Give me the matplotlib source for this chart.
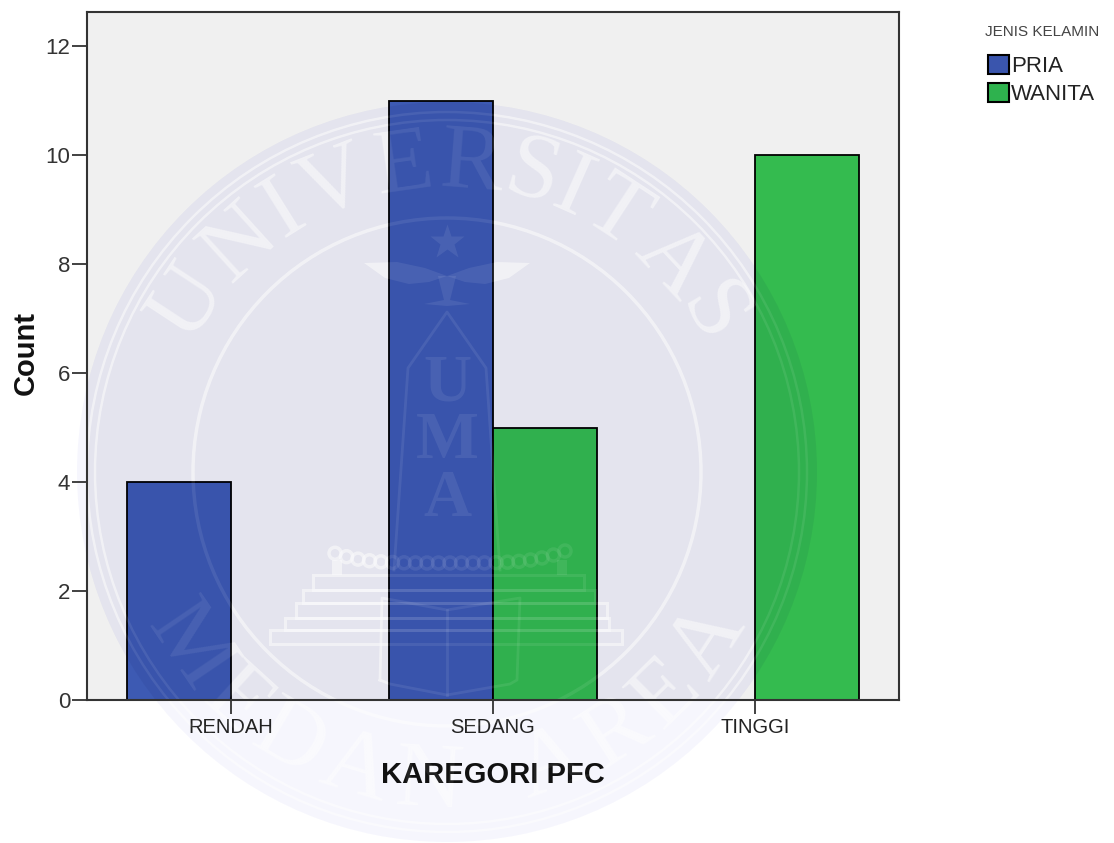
import matplotlib
matplotlib.use("Agg")
import matplotlib.pyplot as plt
from matplotlib.patches import Circle, Polygon, Rectangle, Patch
from matplotlib.textpath import TextPath
from matplotlib.font_manager import FontProperties
from matplotlib.transforms import Affine2D
import numpy as np

categories = ["RENDAH", "SEDANG", "TINGGI"]
pria = [4, 11]
wanita = [5, 10]
yticks = [0, 2, 4, 6, 8, 10, 12]

W, H = 1114, 843
BLUE = '#3d5ab3'
GREEN = '#34bb4f'
plt.rcParams['font.family'] = ['Liberation Sans', 'DejaVu Sans']

fig = plt.figure(figsize=(W/100, H/100), dpi=100)
ax = fig.add_axes([87/W, 1-700/H, 812/W, 688/H])
ax.set_facecolor('#f0f0f0')

# pixel coords with origin top left, for the watermark
px = Affine2D().scale(1/W, -1/H).translate(0, 1) + fig.transFigure
CX, CY = 447, 472


def arc_text(s, R, span, top, fs, alpha, z):
    fp = FontProperties(family='Liberation Serif', size=fs)
    wid = [TextPath((0, 0), c if c != ' ' else 'n', prop=fp).get_extents().width for c in s]
    wid = np.array(wid) + 3
    ang = (np.cumsum(wid) - wid/2)/wid.sum()*span - span/2
    for c, a in zip(s, ang):
        t = np.radians(a)
        if top:
            xp, yp, rot = CX + R*np.sin(t), CY - R*np.cos(t), -a
        else:
            xp, yp, rot = CX + R*np.sin(t), CY + R*np.cos(t), a
        ax.text(xp, yp, c, fontproperties=fp, color='white', alpha=alpha, ha='center', va='center',
                rotation=rot, rotation_mode='anchor', transform=px, clip_on=False, zorder=z)


def crest(alpha, z):
    kw = dict(transform=px, clip_on=False, zorder=z)
    for r, lw in [(352, 1.8), (360, 1.8), (254, 2.5)]:
        ax.add_patch(Circle((CX, CY), r, fill=False, ec='white', alpha=alpha, lw=lw, **kw))
    arc_text("UNIVERSITAS", 308, 128, True, 68, alpha, z)
    arc_text("MEDAN AREA", 312, 128, False, 68, alpha, z)
    ax.plot([447], [242], marker='*', ms=26, mfc='white', mec='none', alpha=alpha, ls='', **kw)
    # wings
    for sgn in (-1, 1):
        wing = [(447, 276), (447+sgn*22, 268), (447+sgn*50, 262), (447+sgn*83, 263),
                (447+sgn*62, 278), (447+sgn*38, 284), (447+sgn*18, 282)]
        ax.add_patch(Polygon(wing, fc='white', ec='none', alpha=alpha, **kw))
    ax.add_patch(Polygon([(438, 276), (456, 276), (450, 300), (470, 304), (447, 306), (424, 304), (444, 300)],
                         fc='white', ec='none', alpha=alpha, **kw))
    # arch
    ax.plot([394, 408, 447, 486, 500], [570, 368, 312, 368, 570], color='white', lw=2, alpha=alpha, **kw)
    for ch, yp in zip("UMA", [384, 442, 500]):
        ax.text(447, yp, ch, family='Liberation Serif', fontweight='bold', fontsize=48, color='white',
                alpha=alpha, ha='center', va='center', transform=px, clip_on=False, zorder=z)
    # beads and the two posts
    bx = np.arange(335, 568, 11.5)
    by = 563 - 12*((bx-447)/118)**4
    for xb, yb in zip(bx, by):
        ax.add_patch(Circle((xb, yb), 6, fill=False, ec='white', lw=2.5, alpha=alpha, **kw))
    for x0 in (332, 557):
        ax.add_patch(Rectangle((x0, 560), 10, 15, fc='white', ec='none', alpha=alpha, **kw))
    # steps
    for x0, x1, y0, y1 in [(313, 584, 575, 590), (303, 595, 590, 603), (296, 607, 603, 618),
                           (285, 609, 618, 630), (270, 622, 630, 644)]:
        ax.add_patch(Rectangle((x0, y0), x1-x0, y1-y0, fill=False, ec='white', lw=2.2, alpha=alpha, **kw))
    # book
    ax.plot([380, 382, 447, 520, 517, 510, 447, 390, 380], [680, 598, 610, 598, 680, 684, 695, 684, 680],
            color='white', lw=2, alpha=alpha, **kw)
    ax.plot([447, 447], [610, 695], color='white', lw=2, alpha=alpha, **kw)


# under the bars: tinted disc with the crest cut out of it
TINT = (40/255, 40/255, 225/255)
ax.add_patch(Circle((CX, CY), 370, fc=TINT, ec='none', alpha=0.04, transform=px, clip_on=False, zorder=0.5))
disc_in = Circle((CX, CY), 370, fc=TINT, ec='none', alpha=0.02, transform=px, zorder=0.5)
ax.add_patch(disc_in)
disc_in.set_clip_path(ax.patch)
crest(0.45, 0.6)

x = np.arange(3)
bw = 104/262
bars = list(ax.bar(x[:2]-bw/2, pria, bw, color=BLUE, edgecolor='black', linewidth=1.3, zorder=2))
bars += list(ax.bar(x[1:]+bw/2, wanita, bw, color=GREEN, edgecolor='black', linewidth=1.3, zorder=2))

# the disc also darkens the bars a little where it crosses them
for b in bars:
    d = Circle((CX, CY), 370, fc=(0, 0, 0.25), ec='none', alpha=0.06, transform=px, zorder=2.5)
    ax.add_patch(d)
    d.set_clip_path(b)

# faint crest over the bars
crest(0.08, 3)

ax.set_xlim(-144/262, 668/262)
ax.set_ylim(0, 688/54.5)
ax.set_yticks(yticks)
ax.set_xticks(x)
ax.set_xticklabels(categories, fontsize=14.5, color='#222222')
ax.tick_params(axis='y', labelsize=16, length=11, width=1.3, pad=1, color='#333333', labelcolor='#333333')
ax.tick_params(axis='x', length=10, width=1.3, pad=3, color='#333333')
for s in ax.spines.values():
    s.set_linewidth(1.5)
    s.set_color('#333333')
    s.set_zorder(4)

ax.set_xlabel("KAREGORI PFC", fontsize=21, fontweight='bold', va='center', color='#111111')
ax.xaxis.set_label_coords(406/812, -75/688)
ax.set_ylabel("Count", fontsize=21, fontweight='bold', va='center', color='#111111')
ax.yaxis.set_label_coords(-61/812, 347/688)

# legend
fig.text(985/W, 1-32/H, "JENIS KELAMIN", fontsize=11, va='center', ha='left', color='#444444')
handles = [Patch(fc='#3a55ad', ec='black', lw=1.5), Patch(fc='#2eb24e', ec='black', lw=1.5)]
fig.legend(handles, ["PRIA", "WANITA"], loc='upper left', bbox_to_anchor=(988/W, 1-55/H),
           frameon=False, fontsize=16, handlelength=0.95, handleheight=0.95, handletextpad=0.1,
           labelspacing=0.25, borderpad=0, borderaxespad=0, labelcolor='#222222')

fig.savefig("out.png", dpi=100)
